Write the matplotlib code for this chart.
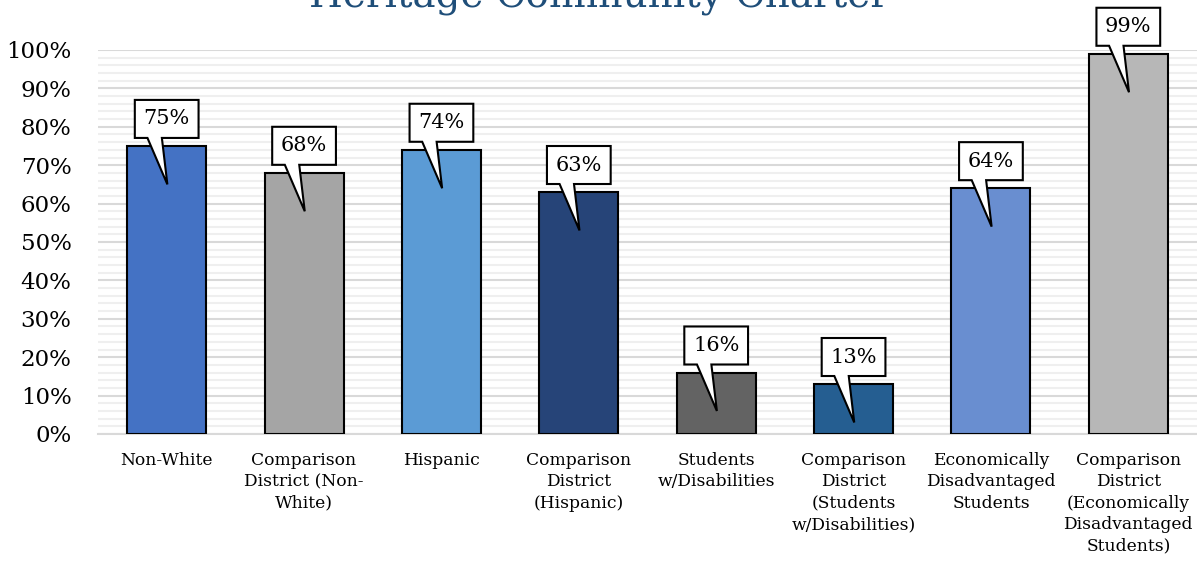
import matplotlib
matplotlib.use("Agg")
import matplotlib.pyplot as plt
from matplotlib.patches import Polygon
from matplotlib.ticker import MultipleLocator, PercentFormatter

categories = ["Non-White", "Comparison\nDistrict (Non-\nWhite)", "Hispanic",
              "Comparison\nDistrict\n(Hispanic)", "Students\nw/Disabilities",
              "Comparison\nDistrict\n(Students\nw/Disabilities)",
              "Economically\nDisadvantaged\nStudents",
              "Comparison\nDistrict\n(Economically\nDisadvantaged\nStudents)"]
values = [75, 68, 74, 63, 16, 13, 64, 99]
colors = ["#4472C4", "#A5A5A5", "#5B9BD5", "#264478", "#636363", "#255E91", "#698ED0", "#B7B7B7"]
title = "Heritage Community Charter"

plt.rcParams['font.family'] = ['DejaVu Serif']
fig = plt.figure(figsize=(11.97, 5.65), dpi=100)
ax = fig.add_axes([98/1197, 131/565, 1 - 98/1197, 384/565])

x = list(range(len(values)))
ax.bar(x, values, width=0.575, color=colors, edgecolor="black", linewidth=1.5, zorder=3)
ax.set_xlim(-0.5, len(values) - 0.5)
ax.set_ylim(0, 100)
ax.yaxis.set_major_locator(MultipleLocator(10))
ax.yaxis.set_minor_locator(MultipleLocator(2))
ax.yaxis.set_major_formatter(PercentFormatter(decimals=0))
ax.grid(axis='y', which='major', color='#D9D9D9', linewidth=1.5, zorder=0)
ax.grid(axis='y', which='minor', color='#EFEFEF', linewidth=1.5, zorder=0)
for s in ['top', 'right', 'left']:
    ax.spines[s].set_visible(False)
ax.spines['bottom'].set_color('#D9D9D9')
ax.spines['bottom'].set_linewidth(1.5)
ax.tick_params(axis='y', which='both', length=0, labelsize=16.5, pad=19)
ax.tick_params(axis='x', length=0, labelsize=12.3, pad=13)
ax.set_xticks(x)
ax.set_xticklabels(categories, linespacing=1.33, va='top')

# callouts
hw = 0.232
for xi, v in zip(x, values):
    bot = v + 2.1
    top = v + 12.0
    pts = [(xi - hw, top), (xi + hw, top), (xi + hw, bot), (xi - 0.035, bot),
           (xi + 0.005, v - 10), (xi - 0.14, bot), (xi - hw, bot)]
    poly = Polygon(pts, closed=True, facecolor='white', edgecolor='black',
                   linewidth=1.5, zorder=5, clip_on=False, joinstyle='miter')
    ax.add_patch(poly)
    ax.text(xi, (top + bot) / 2, f"{v}%", ha='center', va='center', fontsize=15,
            zorder=6, clip_on=False)

fig.text(0.5, 1 - 8/565, title, ha='center', va='baseline', fontsize=28, color='#1F4E79')

fig.savefig("out.png", dpi=100)
